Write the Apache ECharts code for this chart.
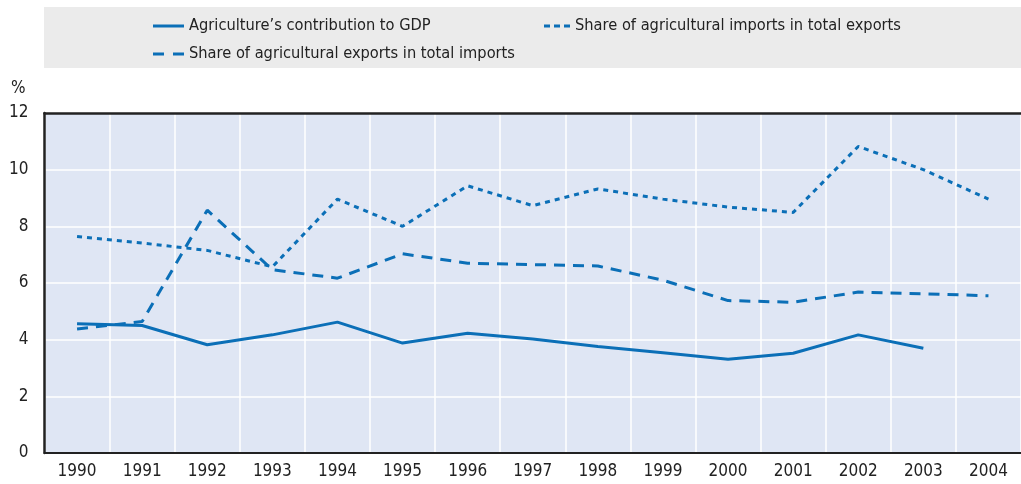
<!DOCTYPE html>
<html>
<head>
<meta charset="utf-8">
<script src="https://cdn.jsdelivr.net/npm/echarts@6/dist/echarts.min.js"></script>
<style>
html,body{margin:0;padding:0;background:#fff;}
#c{width:1021px;height:484px;}
</style>
</head>
<body>
<div id="c"></div>
<script>
const years = ['1990','1991','1992','1993','1994','1995','1996','1997','1998','1999','2000','2001','2002','2003','2004'];
const gdpShare = [4.56, 4.5, 3.82, 4.17, 4.62, 3.88, 4.23, 4.02, 3.76, 3.54, 3.31, 3.52, 4.17, 3.7, null];
const exportsInImports = [4.38, 4.64, 8.57, 6.47, 6.17, 7.03, 6.7, 6.65, 6.6, 6.1, 5.38, 5.32, 5.68, 5.62, 5.55];
const importsInExports = [7.64, 7.41, 7.15, 6.57, 8.96, 8.0, 9.43, 8.73, 9.32, 8.96, 8.68, 8.49, 10.82, 10.0, 8.96];
const yTicks = [0, 2, 4, 6, 8, 10, 12];

const FONT = '"Liberation Sans Narrow", "Arial Narrow", "DejaVu Sans Condensed", sans-serif';
const BLUE = '#0b6fb7';
const chart = echarts.init(document.getElementById('c'));
const names = ["Agriculture’s contribution to GDP", "Share of agricultural exports in total imports", "Share of agricultural imports in total exports"];
const icons = {
  solid: 'path://M0,0H31V3H0Z',
  dashed: 'path://M0,0H11V3H0Z M20,0H31V3H20Z',
  dotted: 'path://M0,0H6V3H0Z M10,0H16V3H10Z M20,0H26V3H20Z'
};
const legendText = {fontFamily: FONT, fontSize: 16.3, color: '#222'};
chart.setOption({
  animation: false,
  graphic: [
    {type: 'rect', left: 44, top: 7, shape: {width: 990, height: 61}, style: {fill: '#ebebeb'}, z: -1},
    {type: 'text', left: 11, top: 80, style: {text: '%', font: '17px ' + FONT, fill: '#222'}}
  ],
  legend: [
    {data: [{name: names[0], icon: icons.solid}], left: 153, top: 18, padding: 0, itemWidth: 31, itemHeight: 3, itemGap: 0,
     symbolKeepAspect: false, textStyle: legendText, selectedMode: false},
    {data: [{name: names[2], icon: icons.dotted}], left: 544, top: 18, padding: 0, itemWidth: 26, itemHeight: 3, itemGap: 0,
     symbolKeepAspect: false, textStyle: legendText, selectedMode: false},
    {data: [{name: names[1], icon: icons.dashed}], left: 153, top: 46, padding: 0, itemWidth: 31, itemHeight: 3, itemGap: 0,
     symbolKeepAspect: false, textStyle: legendText, selectedMode: false}
  ],
  grid: {left: 44.5, right: -6, top: 113, bottom: 31, show: true, backgroundColor: '#dfe6f4', borderWidth: 0},
  xAxis: [{
    type: 'category', data: years, boundaryGap: true,
    axisLine: {lineStyle: {color: '#222', width: 2}},
    axisTick: {inside: true, length: 6, lineStyle: {color: '#444', width: 1}},
    splitLine: {show: true, lineStyle: {color: '#fff', width: 1.5}},
    axisLabel: {fontFamily: FONT, fontSize: 17, color: '#222', margin: 10}
  }, {
    type: 'category', data: years, boundaryGap: true, position: 'top',
    axisLine: {lineStyle: {color: '#222', width: 2.5}},
    axisTick: {show: false}, axisLabel: {show: false}, splitLine: {show: false}
  }],
  yAxis: {
    type: 'value', min: yTicks[0], max: yTicks[yTicks.length - 1], interval: 2,
    axisLine: {show: true, lineStyle: {color: '#222', width: 2.5}},
    axisTick: {show: false},
    splitLine: {show: true, lineStyle: {color: '#fff', width: 1.5}},
    axisLabel: {fontFamily: FONT, fontSize: 17, color: '#222', margin: 16}
  },
  series: [
    {name: names[0], type: 'line', data: gdpShare, symbol: 'none', lineStyle: {color: BLUE, width: 3}, itemStyle: {color: BLUE}, z: 3},
    {name: names[1], type: 'line', data: exportsInImports, symbol: 'none', lineStyle: {color: BLUE, width: 3, type: [11, 8]}, itemStyle: {color: BLUE}, z: 3},
    {name: names[2], type: 'line', data: importsInExports, symbol: 'none', lineStyle: {color: BLUE, width: 3, type: [5, 5]}, itemStyle: {color: BLUE}, z: 3}
  ]
});
</script>
</body>
</html>
